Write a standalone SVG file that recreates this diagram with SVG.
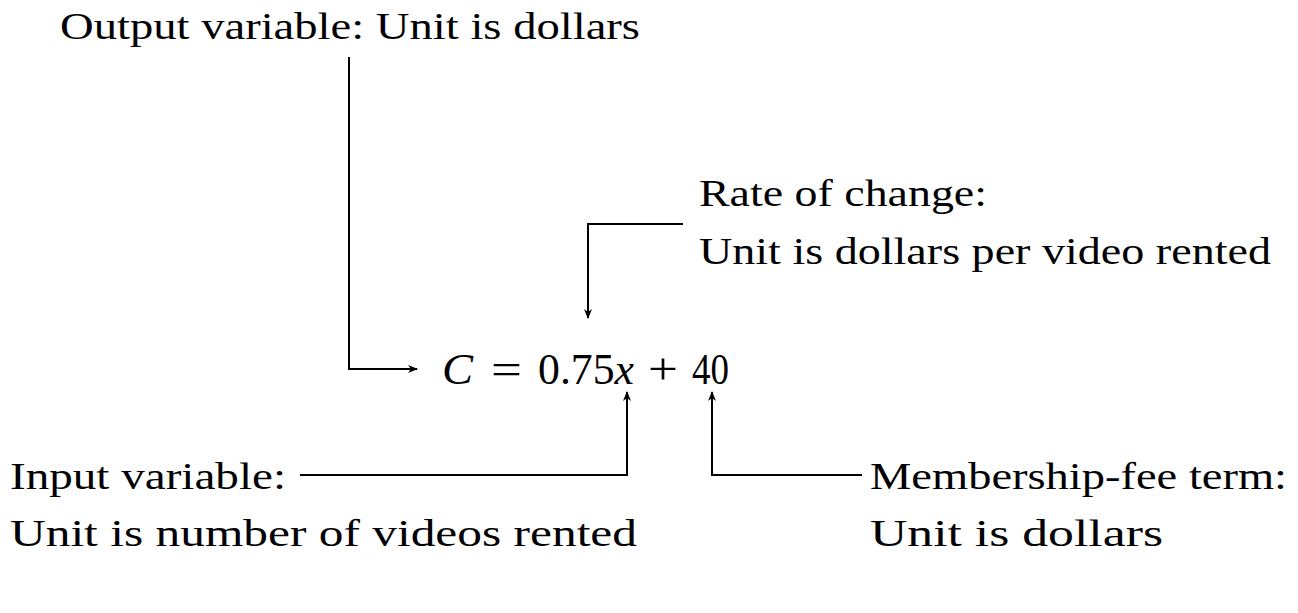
<svg xmlns="http://www.w3.org/2000/svg" width="1298" height="613" viewBox="0 0 1298 613">
<style>
text{font-family:"Liberation Serif","DejaVu Serif",serif;font-size:38px;fill:#000}
.eq{font-size:45px}
.i{font-style:italic}
.c{fill:none;stroke:#000;stroke-width:2}
</style>
<defs>
<marker id="ah" viewBox="0 0 10 10" refX="9" refY="5" markerWidth="10" markerHeight="10" markerUnits="userSpaceOnUse" orient="auto">
<path d="M0,1 L10,5 L0,9 L3,5 Z" fill="#000"/>
</marker>
</defs>
<rect width="1298" height="613" fill="#fff"/>
<g id="connectors">
<polyline class="c" points="349,57 349,369 417,369" marker-end="url(#ah)"/>
<polyline class="c" points="683,224 588,224 588,318" marker-end="url(#ah)"/>
<polyline class="c" points="300,475 627,475 627,392" marker-end="url(#ah)"/>
<polyline class="c" points="862,475 712,475 712,392" marker-end="url(#ah)"/>
</g>
<g id="output">
<text x="60" y="39" textLength="580" lengthAdjust="spacingAndGlyphs">Output variable: Unit is dollars</text>
</g>
<g id="rate">
<text x="699" y="206" textLength="288" lengthAdjust="spacingAndGlyphs">Rate of change:</text>
<text x="699" y="264" textLength="572" lengthAdjust="spacingAndGlyphs">Unit is dollars per video rented</text>
</g>
<g id="equation">
<text class="eq i" x="442" y="384" textLength="31" lengthAdjust="spacingAndGlyphs">C</text>
<text class="eq" x="491" y="384" textLength="31" lengthAdjust="spacingAndGlyphs">=</text>
<text class="eq" x="538" y="384" textLength="96" lengthAdjust="spacingAndGlyphs">0.75<tspan class="i">x</tspan></text>
<text class="eq" x="648" y="384" textLength="30" lengthAdjust="spacingAndGlyphs">+</text>
<text class="eq" x="692" y="384" textLength="37" lengthAdjust="spacingAndGlyphs">40</text>
</g>
<g id="input">
<text x="10" y="489" textLength="276" lengthAdjust="spacingAndGlyphs">Input variable:</text>
<text x="10" y="546" textLength="627" lengthAdjust="spacingAndGlyphs">Unit is number of videos rented</text>
</g>
<g id="membership">
<text x="870" y="489" textLength="417" lengthAdjust="spacingAndGlyphs">Membership-fee term:</text>
<text x="870" y="546" textLength="293" lengthAdjust="spacingAndGlyphs">Unit is dollars</text>
</g>
</svg>
